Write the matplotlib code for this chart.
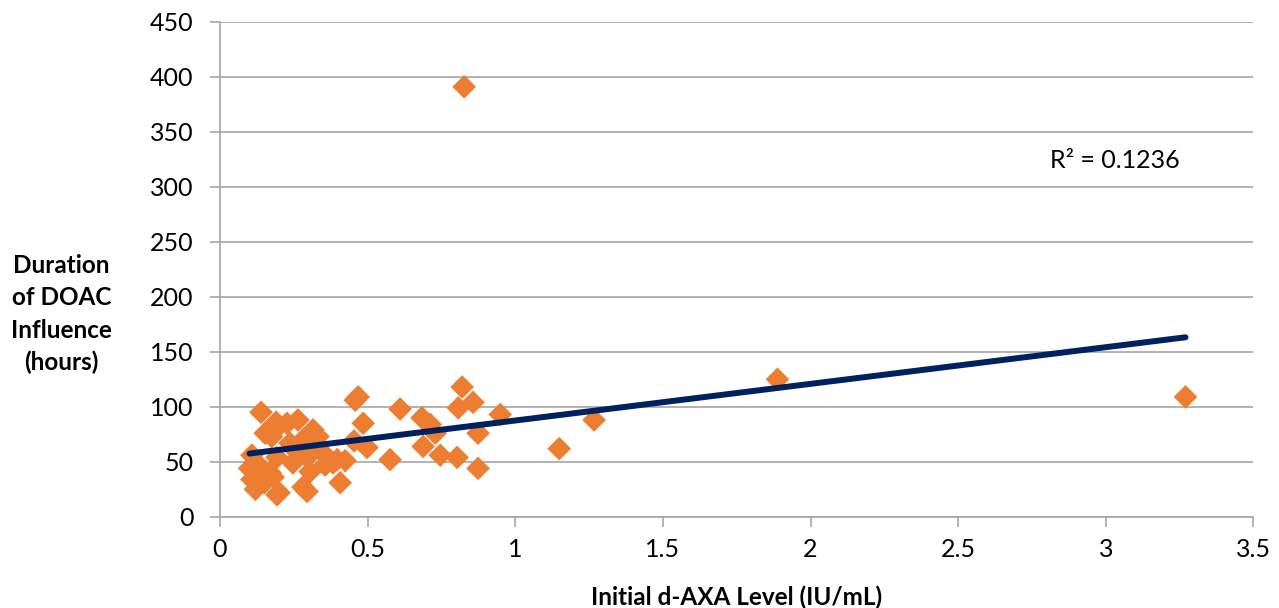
import numpy as np
import matplotlib.pyplot as plt

plt.rcParams['font.family'] = ['Lato', 'DejaVu Sans']

# initial d-AXA level (IU/mL) and duration of DOAC influence (hours)
axa = [0.139, 0.153, 0.175, 0.19, 0.108, 0.10, 0.108, 0.12, 0.15, 0.17,
       0.193, 0.136, 0.264, 0.227, 0.197, 0.315, 0.332, 0.281, 0.237, 0.193,
       0.247, 0.295, 0.349, 0.397, 0.305, 0.407, 0.281, 0.295, 0.20, 0.18,
       0.356, 0.468, 0.458, 0.485, 0.454, 0.498, 0.61, 0.576, 0.424, 0.383,
       0.684, 0.712, 0.729, 0.688, 0.746, 0.803, 0.82, 0.807, 0.857, 0.874,
       0.874, 0.949, 0.827, 1.149, 1.267, 1.888, 3.27, 0.25, 0.33, 0.12]
hours = [95, 76, 73, 86, 56, 44, 34, 25, 31, 40,
         20, 45, 88, 85, 82, 79, 73, 70, 67, 54,
         49, 54, 58, 52, 41, 31, 27, 23, 22, 36,
         47, 109, 106, 85, 69, 63, 98, 52, 51, 49,
         90, 84, 76, 64, 56, 54, 118, 99, 104, 76,
         44, 93, 391, 62, 88, 125, 109, 62, 65, 50]

r2_text = 'R² = 0.1236'

x = np.array(axa)
y = np.array(hours)
slope, icpt = np.polyfit(x, y, 1)

fig = plt.figure(figsize=(12.79, 6.08), dpi=100)
ax = fig.add_axes([0.172, 0.150, 0.808, 0.814])

ax.scatter(x, y, marker='D', s=145, color='#ED7D31', edgecolors='none', zorder=3)
xl = np.array([x.min(), x.max()])
ax.plot(xl, slope * xl + icpt, color='#002060', lw=4.3, solid_capstyle='round', zorder=4)

ax.set_xlim(0, 3.5)
ax.set_ylim(0, 450)
ax.set_xticks(np.arange(0, 3.51, 0.5))
ax.set_xticklabels(['0', '0.5', '1', '1.5', '2', '2.5', '3', '3.5'])
ax.set_yticks(np.arange(0, 451, 50))
ax.yaxis.grid(True, color='#A6A6A6', lw=1.2)
ax.set_axisbelow(True)
for s in ['top', 'right']:
    ax.spines[s].set_visible(False)
for s in ['left', 'bottom']:
    ax.spines[s].set_color('#A6A6A6')
    ax.spines[s].set_linewidth(1.2)
ax.tick_params(axis='both', colors='#A6A6A6', labelcolor='black', labelsize=18, length=7, width=1.2)
ax.tick_params(axis='y', pad=12)
ax.tick_params(axis='x', pad=8)

ax.text(2.81, 317, r2_text, fontsize=18)
ax.set_xlabel('Initial d-AXA Level (IU/mL)', fontsize=17.5, fontweight='bold', labelpad=18)
fig.text(0.048, 0.483, 'Duration\nof DOAC\nInfluence\n(hours)', fontsize=17.5, fontweight='bold',
         ha='center', va='center', linespacing=1.48)

fig.savefig('out.png', dpi=100)
